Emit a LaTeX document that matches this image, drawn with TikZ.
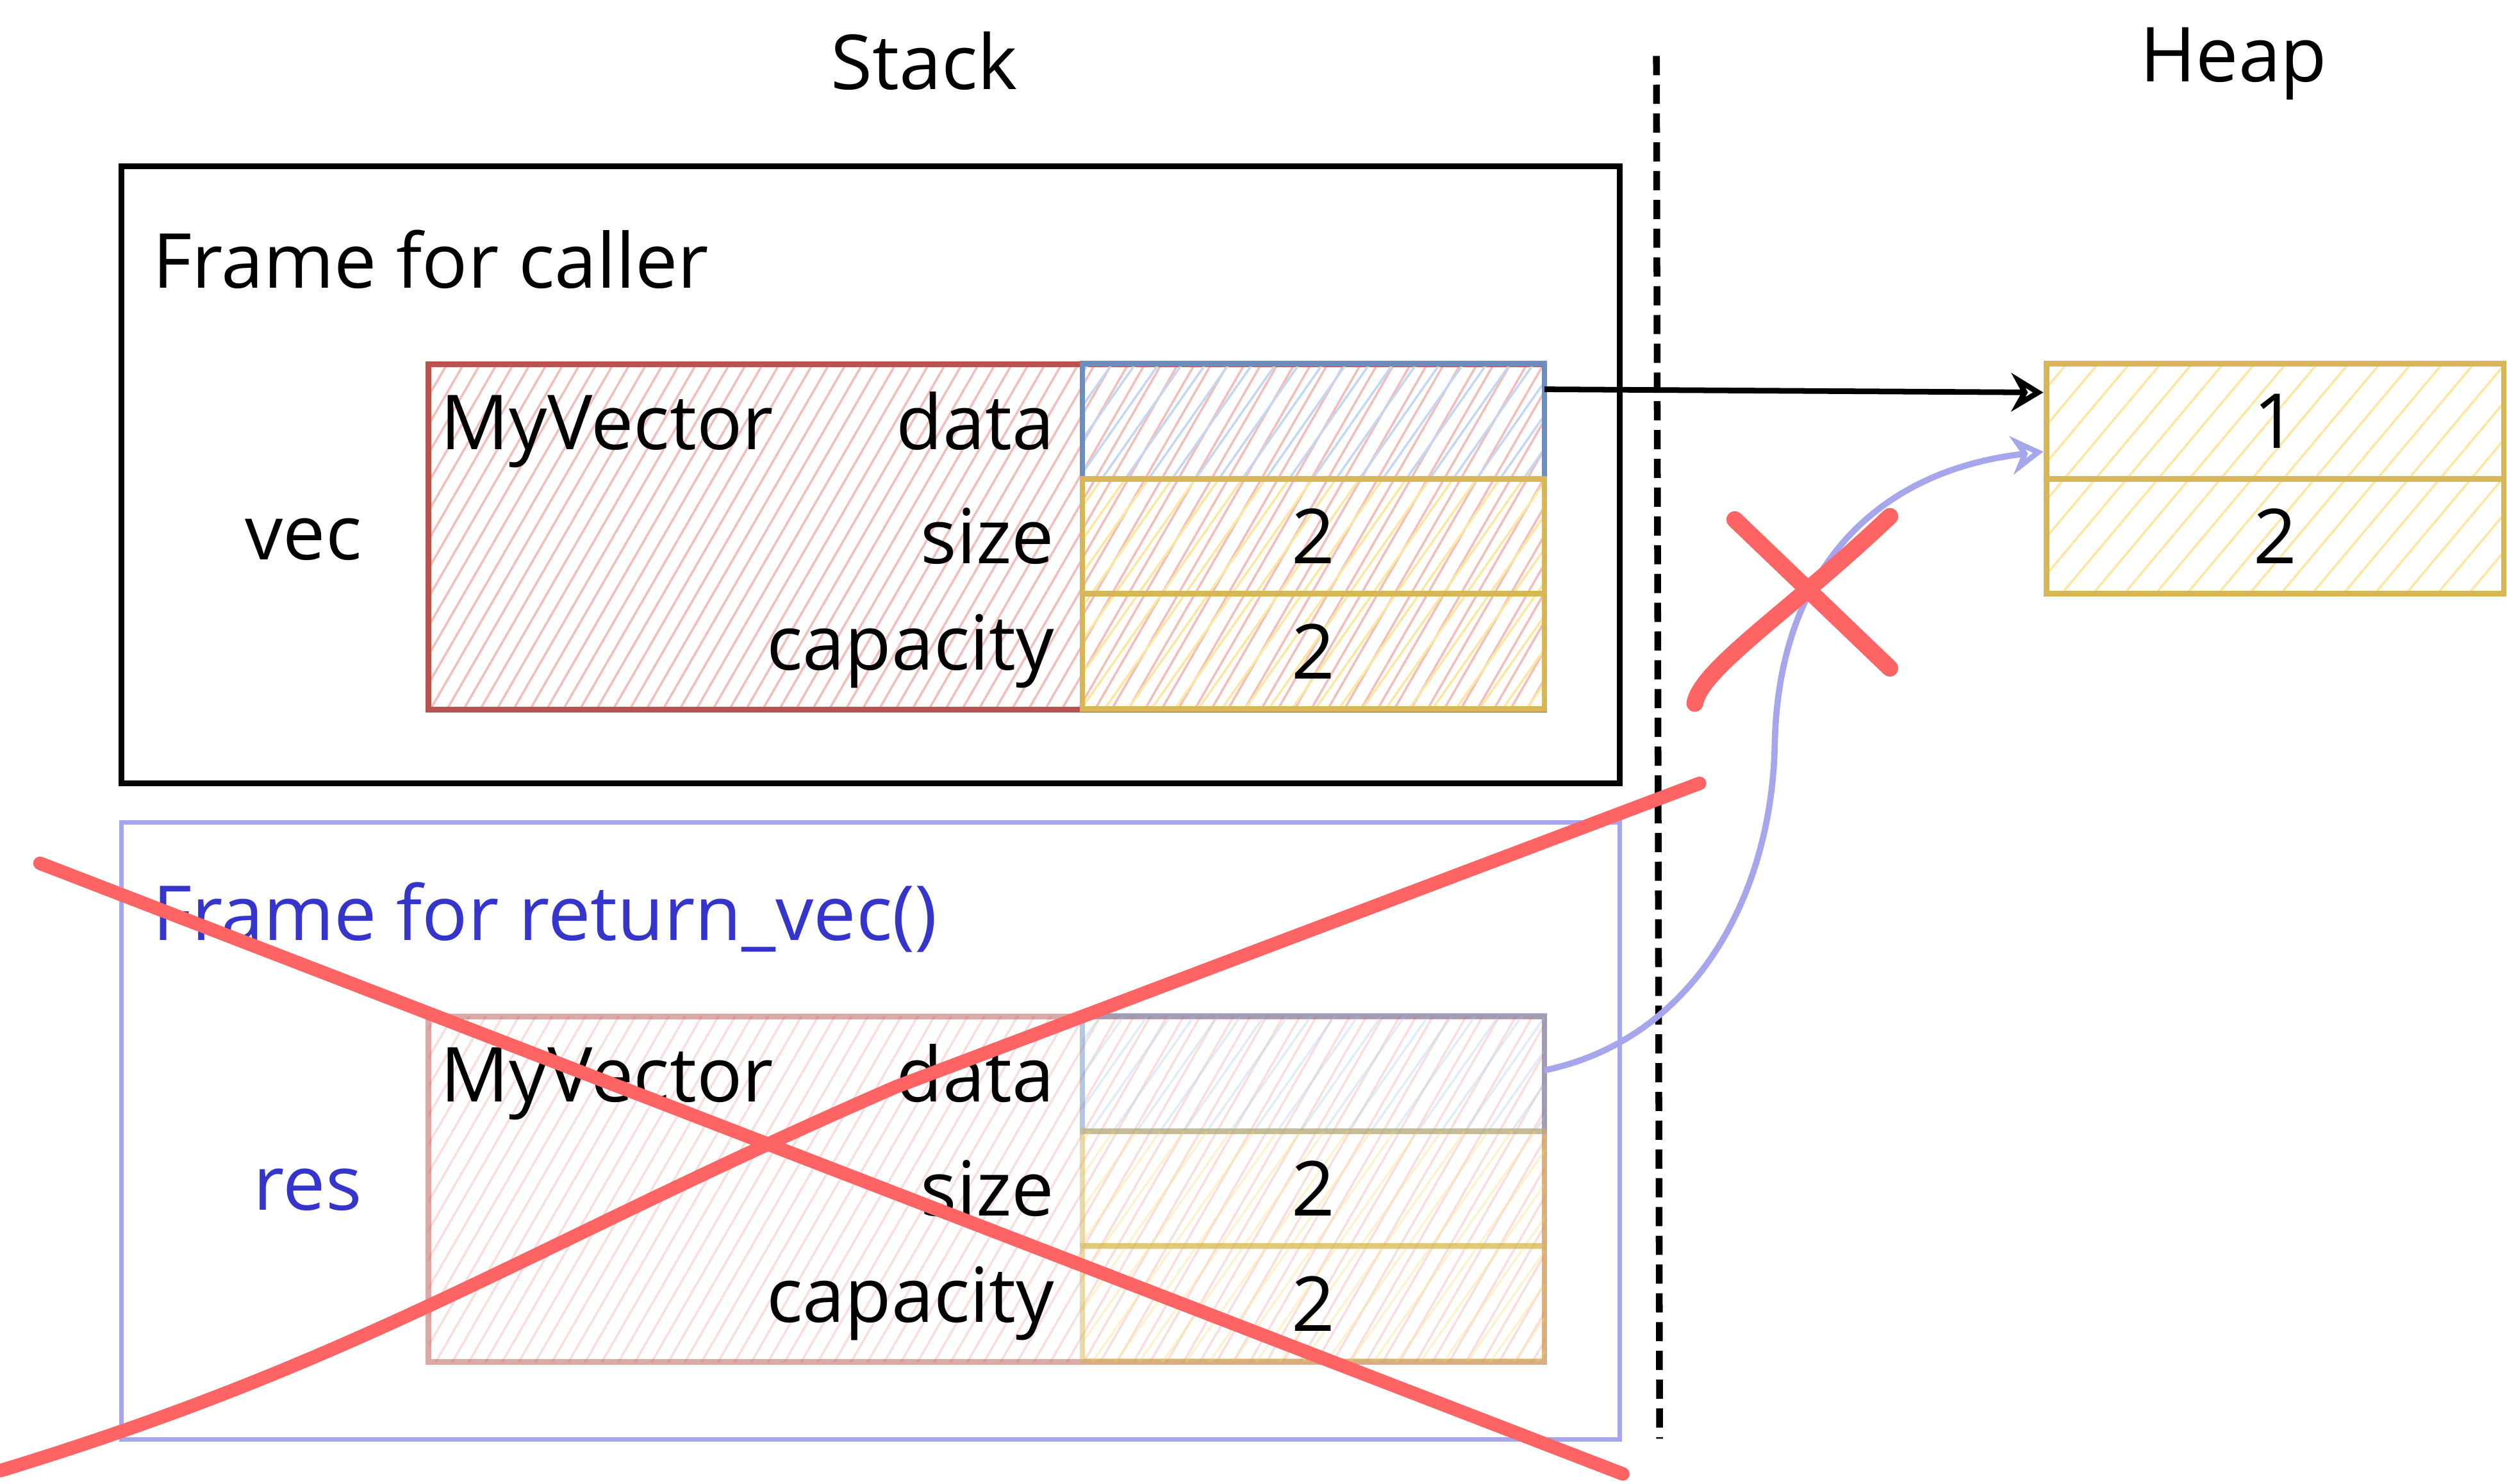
\documentclass[tikz,border=0pt]{standalone}
\usepackage{fontspec}
\setmainfont{Open Sans}
\usepackage{xcolor}
\usetikzlibrary{
		calc,
		positioning,
		arrows.meta,
		patterns.meta
	}
\tikzset{
		>={Stealth[open,length=2mm,width=2.4mm]}
	}
\definecolor{redline}{HTML}{B85450}
\definecolor{redhatch}{HTML}{F3BDBA}
\definecolor{blueline}{HTML}{6C8EBF}
\definecolor{bluehatch}{HTML}{C3D7F3}
\definecolor{yellowline}{HTML}{D6B656}
\definecolor{yellowhatch}{HTML}{FBE6A2}
\definecolor{purpleline}{HTML}{A6A6EC}
\definecolor{purpletext}{HTML}{3535CC}
\definecolor{crossred}{HTML}{FF6464}

\begin{document}
\begin{tikzpicture}[x=0.1mm, y=-0.1mm,
		every node/.style={font=\fontsize{13.5}{16}\selectfont},
		frame/.style={draw, line width=1pt, minimum width=93.7mm, minimum height=38.6mm, inner sep=0pt},
		vecbox/.style={draw=redline, line width=1pt, minimum width=69.8mm, minimum height=21.6mm, pattern={Lines[angle=60, distance=0.9mm, line width=0.4pt]}, pattern color=redhatch},
		cell/.style={line width=1pt, minimum width=28.9mm, minimum height=7.2mm, inner sep=0pt, outer sep=0pt},
		ptrcell/.style={cell, draw=blueline, pattern={Lines[angle=55, distance=1.2mm, line width=0.4pt]}, pattern color=bluehatch},
		numcell/.style={cell, draw=yellowline, pattern={Lines[angle=55, distance=1.2mm, line width=0.4pt]}, pattern color=yellowhatch},
		faded/.style={draw opacity=0.5, fill opacity=0.5, text opacity=1},
		divider/.style={line width=1.2pt, dash pattern=on 1.2mm off 0.6mm},
		cross/.style={crossred, line width=2.4pt, line cap=round}
	]
		\useasboundingbox (0,0) rectangle (1568,928);
		\node (stack) at (578,38) {Stack};
		\node (heap) at (1397,40) {Heap};
		\draw[divider] (1036,35) -- (1038,900);

		% frame for caller
		\node[frame] (f1) at (544.5,297) {};
		\node[anchor=base west, inner sep=0pt] (t1) at (95,180) {Frame for caller};
		\node[vecbox] (v1) at (617,336) {};
		\node[ptrcell] (d1) at (821.5,263.5) {};
		\node[numcell, below=0pt of d1] (s1) {2};
		\node[numcell, below=0pt of s1] (c1) {2};
		\node[anchor=base west, inner sep=0pt] (n1) at (275,281) {MyVector};
		\node[inner sep=0pt, left=1.7mm of d1] (ld1) {data};
		\node[inner sep=0pt, left=1.7mm of s1] (ls1) {size};
		\node[inner sep=0pt, left=1.7mm of c1] (lc1) {capacity};
		\node[anchor=base east, inner sep=0pt] (vec) at (227,350) {vec};

		% frame for return_vec()
		\node[frame, draw=purpleline, line width=0.8pt] (f2) at (544.5,707.5) {};
		\node[anchor=base west, inner sep=0pt, text=purpletext] (t2) at (95,588) {Frame for return\_vec()};
		\node[vecbox, faded] (v2) at (617,744) {};
		\node[ptrcell, faded] (d2) at (821.5,671.5) {};
		\node[numcell, faded, below=0pt of d2] (s2) {2};
		\node[numcell, faded, below=0pt of s2] (c2) {2};
		\node[anchor=base west, inner sep=0pt] (n2) at (275,689) {MyVector};
		\node[inner sep=0pt, left=1.7mm of d2] (ld2) {data};
		\node[inner sep=0pt, left=1.7mm of s2] (ls2) {size};
		\node[inner sep=0pt, left=1.7mm of c2] (lc2) {capacity};
		\node[anchor=base east, inner sep=0pt, text=purpletext] (res) at (227,757) {res};

		% heap
		\node[numcell, minimum width=28.6mm, pattern={Lines[angle=50, distance=1.5mm, line width=0.4pt]}] (h1) at (1423,263.5) {1};
		\node[numcell, minimum width=28.6mm, pattern={Lines[angle=50, distance=1.5mm, line width=0.4pt]}, below=0pt of h1] (h2) {2};

		\draw[->, line width=1pt] ($(d1.east)+(0,-20)$) -- ($(h1.west)+(-2,-18)$);
		\draw[->, purpleline, line width=1.1pt] ($(d2.east)+(0,-2)$) .. controls (1060,650) and (1108,560) .. (1110,466) .. controls (1112,360) and (1170,295) .. ($(h1.west)+(-2,19)$);

		% crossed out
		\draw[cross] (25,540) -- (1015,922);
		\draw[cross] (0,920) .. controls (230,850) and (330,780) .. (560,680) -- (1063,490);
		\draw[cross, line width=3pt] (1085,325) -- (1182,418);
		\draw[cross, line width=3pt] (1060,440) .. controls (1064,418) and (1120,382) .. (1182,323);
	\end{tikzpicture}
\end{document}
